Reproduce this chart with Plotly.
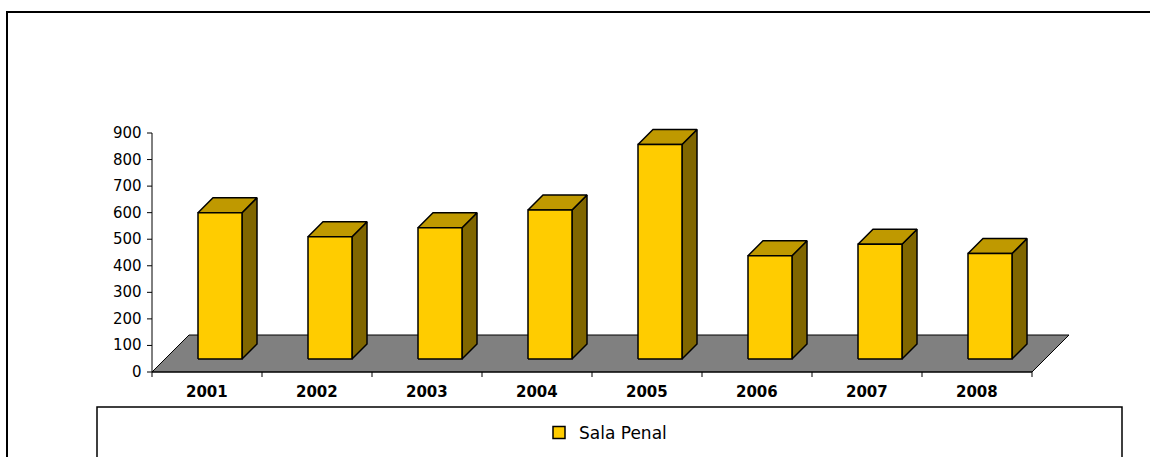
import plotly.graph_objects as go

# ---------------- data ----------------
years = ["2001", "2002", "2003", "2004", "2005", "2006", "2007", "2008"]
sala_penal = [551, 460, 494, 561, 808, 389, 432, 397]
y_ticks = [0, 100, 200, 300, 400, 500, 600, 700, 800, 900]
series_name = "Sala Penal"

# ---------------- layout geometry (pixels) ----------------
W, H = 1150, 457
L, R, T, B = 140, 1100, 110, 390          # plot area in page pixels
PX_X = 110.0                               # pixels per category
X0_PX = 152                                # pixel of left axis line
Y0_PX, Y900_PX = 372, 133                  # pixels of value 0 and 900
PX_Y = (Y0_PX - Y900_PX) / 900.0           # pixels per value unit

x_min = -0.5 - (X0_PX - L) / PX_X
x_max = x_min + (R - L) / PX_X
y_min = -(B - Y0_PX) / PX_Y
y_max = y_min + (B - T) / PX_Y


def px2dx(p):
    return p / PX_X


def px2dy(p):
    return p / PX_Y


def paper_x(px):
    return (px - L) / (R - L)


def paper_y(py):
    return (B - py) / (B - T)


n = len(years)
floor_depth = 37      # px
bar_front = 13        # px depth of bar front plane
bar_depth = 15        # px depth of bar
bar_w = 0.4           # category fraction

FRONT = "#FFCC00"
TOP = "#BF9900"
SIDE = "#806600"
FLOOR = "#808080"

fig = go.Figure()

# legend entry (bar symbol)
fig.add_trace(go.Bar(
    x=[None], y=[None], name=series_name,
    marker=dict(color=FRONT, line=dict(color="black", width=1.5)),
    showlegend=True, hoverinfo="skip"))

# floor
fdx, fdy = px2dx(floor_depth), px2dy(floor_depth)
fig.add_trace(go.Scatter(
    x=[-0.5, n - 0.5, n - 0.5 + fdx, -0.5 + fdx, -0.5],
    y=[0, 0, fdy, fdy, 0],
    fill="toself", fillcolor=FLOOR, mode="lines",
    line=dict(color="black", width=1), showlegend=False, hoverinfo="skip"))

# axis lines and ticks
tick_y_len = px2dx(5)
ax_x, ax_y = [-0.5, -0.5, None, -0.5, n - 0.5, None], [900, 0, None, 0, 0, None]
for v in y_ticks:
    ax_x += [-0.5 - tick_y_len, -0.5, None]
    ax_y += [v, v, None]
for i in range(n + 1):
    ax_x += [i - 0.5, i - 0.5, None]
    ax_y += [0, -px2dy(5), None]
fig.add_trace(go.Scatter(x=ax_x, y=ax_y, mode="lines",
                         line=dict(color="black", width=1),
                         showlegend=False, hoverinfo="skip"))

# bars
d1x, d1y = px2dx(bar_front), px2dy(bar_front)
ddx, ddy = px2dx(bar_depth), px2dy(bar_depth)
for i, v in enumerate(sala_penal):
    xl = i - bar_w / 2 + d1x
    xr = i + bar_w / 2 + d1x
    yb = d1y
    yt = d1y + v
    # side face
    fig.add_trace(go.Scatter(
        x=[xr, xr + ddx, xr + ddx, xr, xr],
        y=[yb, yb + ddy, yt + ddy, yt, yb],
        fill="toself", fillcolor=SIDE, mode="lines",
        line=dict(color="black", width=1.5), showlegend=False, hoverinfo="skip"))
    # top face
    fig.add_trace(go.Scatter(
        x=[xl, xr, xr + ddx, xl + ddx, xl],
        y=[yt, yt, yt + ddy, yt + ddy, yt],
        fill="toself", fillcolor=TOP, mode="lines",
        line=dict(color="black", width=1.5), showlegend=False, hoverinfo="skip"))
    # front face
    fig.add_trace(go.Scatter(
        x=[xl, xr, xr, xl, xl],
        y=[yb, yb, yt, yt, yb],
        fill="toself", fillcolor=FRONT, mode="lines",
        line=dict(color="black", width=1.5), showlegend=False,
        name=years[i], hovertemplate="%{text}<extra></extra>",
        text=["%s: %d" % (years[i], v)] * 5))

annotations = []
for v in y_ticks:
    annotations.append(dict(
        x=paper_x(X0_PX - 8), xref="paper", y=v, yref="y",
        text=str(v), showarrow=False, xanchor="right", yanchor="middle",
        font=dict(family="DejaVu Sans", size=15, color="black")))
for i, yr in enumerate(years):
    annotations.append(dict(
        x=i, xref="x", y=paper_y(392), yref="paper",
        text="<b>%s</b>" % yr, showarrow=False, xanchor="center", yanchor="middle",
        font=dict(family="DejaVu Sans", size=15, color="black")))

shapes = [
    dict(type="rect", xref="paper", yref="paper",
         x0=paper_x(7), x1=paper_x(1170), y0=paper_y(12), y1=paper_y(480),
         line=dict(color="black", width=2), fillcolor="rgba(0,0,0,0)", layer="below"),
    dict(type="rect", xref="paper", yref="paper",
         x0=paper_x(97), x1=paper_x(1122), y0=paper_y(407), y1=paper_y(480),
         line=dict(color="black", width=1.5), fillcolor="rgba(0,0,0,0)", layer="below"),
]

fig.update_layout(
    width=W, height=H, autosize=False,
    margin=dict(l=L, r=W - R, t=T, b=H - B, pad=0, autoexpand=False),
    paper_bgcolor="white", plot_bgcolor="rgba(0,0,0,0)",
    barmode="overlay",
    xaxis=dict(range=[x_min, x_max], visible=False, fixedrange=True),
    yaxis=dict(range=[y_min, y_max], visible=False, fixedrange=True),
    showlegend=True,
    legend=dict(x=paper_x(539), xanchor="left", y=paper_y(433), yanchor="middle",
                orientation="h", bgcolor="rgba(0,0,0,0)",
                font=dict(family="DejaVu Sans", size=17, color="black")),
    annotations=annotations, shapes=shapes,
)

fig.write_html("out.html")
